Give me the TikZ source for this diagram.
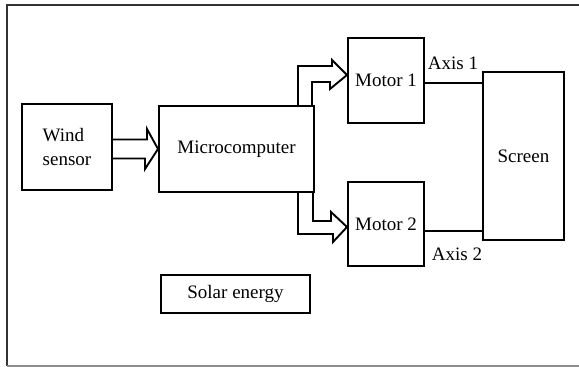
\documentclass[tikz,border=0pt]{standalone}
\usepackage{fontspec}
\setmainfont{Liberation Serif}
\usetikzlibrary{calc}
\begin{document}
\begin{tikzpicture}[x=1pt,y=-1pt,
  box/.style={draw,line width=2pt,inner sep=0pt,font=\fontsize{19}{23.5}\selectfont},
  blk/.style={draw,line width=1.9pt,line join=miter},
  lbl/.style={inner sep=0pt,font=\fontsize{19}{23.5}\selectfont},
  wire/.style={draw,line width=2pt}]
\useasboundingbox (0,0) rectangle (579,367);
% frame
\draw[line width=1.8pt,color=black!80] (579,5) -- (7,5) -- (7,366);
\draw[line width=1.5pt,color=black!45] (7,366) -- (579,366);
% boxes
\node[box,minimum width=90pt,minimum height=86pt,align=left] (wind) at (67,147) {Wind\\sensor};
\node[box,minimum width=155pt,minimum height=86pt] (micro) at (236.5,149) {Microcomputer};
\node[box,minimum width=76pt,minimum height=85pt] (m1) at (386,80.5) {Motor 1};
\node[box,minimum width=76pt,minimum height=84pt] (m2) at (386,224) {Motor 2};
\node[box,minimum width=81pt,minimum height=168pt] (screen) at (523.5,156) {Screen};
\node[box,minimum width=149pt,minimum height=38pt] (solar) at (235.5,294) {Solar energy};
% wind -> micro
\draw[blk] ($(wind.east)+(0,-7.5)$) -- ++(34,0) -- ++(0,-10.5) -- (micro.west)
  -- ++(-13,20) -- ++(0,-10.5) -- ($(wind.east)+(0,11.5)$);
% micro -> motor 1
\coordinate (tipA) at ($(m1.west)+(0,-5.5)$);
\draw[blk] ($(micro.north east)+(-17,0)$) -- ++(0,-39) -- ++(34,0) -- ++(0,-6) -- (tipA)
  -- ++(-17,14) -- ++(0,-7) -- ++(-18,0) -- ++(0,24);
% micro -> motor 2
\coordinate (tipB) at ($(m2.west)+(0,3)$);
\draw[blk] ($(micro.south east)+(-17,0)$) -- ++(0,41) -- ++(35,0) -- ++(0,8) -- (tipB)
  -- ++(-16,-15) -- ++(0,9) -- ++(-18,0) -- ++(0,-29);
% axes
\coordinate (a1) at ($(m1.east)+(0,2)$);
\draw[wire] (a1) -- (a1 -| screen.west);
\coordinate (a2) at ($(m2.east)+(0,7)$);
\draw[wire] (a2) -- (a2 -| screen.west);
\node[lbl] (ax1) at (453,63) {Axis 1};
\node[lbl] (ax2) at (457,254) {Axis 2};
\end{tikzpicture}
\end{document}
